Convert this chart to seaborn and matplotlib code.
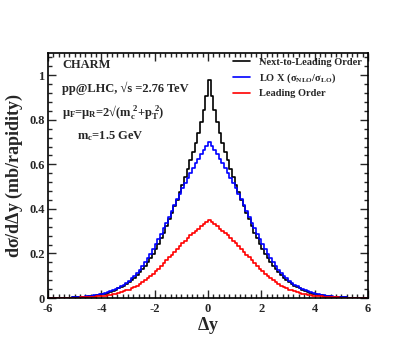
import numpy as np
import pandas as pd
import matplotlib
matplotlib.use("Agg")
import matplotlib.pyplot as plt
from matplotlib.ticker import MultipleLocator
import seaborn as sns

# bin edges: 120 bins of 0.1 between -6 and 6
edges = np.linspace(-6, 6, 121)
centers = (edges[:-1] + edges[1:]) / 2

# Next-to-Leading Order (black), left half then right half
nlo_left = [0.0001, 0.0002, 0.0003, 0.0005, 0.0007, 0.0009, 0.0012, 0.0015, 0.0019, 0.0024,
            0.0030, 0.0036, 0.0044, 0.0053, 0.0063, 0.0075, 0.009, 0.0105, 0.0125, 0.0145,
            0.017, 0.020, 0.024, 0.028, 0.032, 0.037, 0.043, 0.049, 0.056, 0.063,
            0.072, 0.081, 0.091, 0.102, 0.115, 0.129, 0.144, 0.161, 0.179, 0.199,
            0.220, 0.243, 0.268, 0.294, 0.322, 0.353, 0.381, 0.411, 0.442, 0.474,
            0.508, 0.543, 0.580, 0.618, 0.657, 0.698, 0.742, 0.790, 0.845, 0.905]
nlo_right = [0.980, 0.905, 0.845, 0.790, 0.742, 0.698, 0.657, 0.618, 0.580, 0.543,
             0.508, 0.474, 0.442, 0.411, 0.381, 0.353, 0.322, 0.294, 0.268, 0.243,
             0.220, 0.199, 0.179, 0.161, 0.144, 0.129, 0.115, 0.102, 0.091, 0.081,
             0.072, 0.063, 0.056, 0.049, 0.043, 0.037, 0.032, 0.028, 0.024, 0.020,
             0.017, 0.0145, 0.0125, 0.0105, 0.009, 0.0075, 0.0063, 0.0053, 0.0044, 0.0036,
             0.0030, 0.0024, 0.0019, 0.0015, 0.0012, 0.0009, 0.0007, 0.0005, 0.0003, 0.0002]

# LO x (sigma_NLO / sigma_LO) (blue)
lok_left = [0.0002, 0.0003, 0.0004, 0.0006, 0.0008, 0.0011, 0.0014, 0.0018, 0.0022, 0.0028,
            0.0034, 0.0041, 0.0050, 0.0060, 0.0072, 0.0085, 0.010, 0.012, 0.014, 0.016,
            0.019, 0.022, 0.026, 0.030, 0.035, 0.040, 0.046, 0.053, 0.060, 0.068,
            0.077, 0.088, 0.100, 0.113, 0.127, 0.143, 0.160, 0.178, 0.198, 0.219,
            0.241, 0.264, 0.288, 0.313, 0.339, 0.365, 0.391, 0.417, 0.443, 0.468,
            0.493, 0.517, 0.540, 0.562, 0.583, 0.604, 0.625, 0.645, 0.664, 0.682]
lok_right = [0.700, 0.682, 0.664, 0.645, 0.625, 0.604, 0.583, 0.562, 0.540, 0.517,
             0.493, 0.468, 0.443, 0.417, 0.391, 0.365, 0.339, 0.313, 0.288, 0.264,
             0.241, 0.219, 0.198, 0.178, 0.160, 0.143, 0.127, 0.113, 0.100, 0.088,
             0.077, 0.068, 0.060, 0.053, 0.046, 0.040, 0.035, 0.030, 0.026, 0.022,
             0.019, 0.016, 0.014, 0.012, 0.010, 0.0085, 0.0072, 0.0060, 0.0050, 0.0041,
             0.0034, 0.0028, 0.0022, 0.0018, 0.0014, 0.0011, 0.0008, 0.0006, 0.0004, 0.0003]

# Leading Order (red)
lo_left = [0.0001, 0.0001, 0.0002, 0.0003, 0.0004, 0.0005, 0.0007, 0.0009, 0.0011, 0.0014,
           0.0017, 0.002, 0.0025, 0.003, 0.0036, 0.0042, 0.005, 0.006, 0.007, 0.008,
           0.0095, 0.011, 0.013, 0.015, 0.017, 0.020, 0.023, 0.026, 0.030, 0.034,
           0.038, 0.044, 0.050, 0.056, 0.063, 0.071, 0.080, 0.089, 0.099, 0.109,
           0.120, 0.132, 0.144, 0.156, 0.169, 0.182, 0.195, 0.208, 0.221, 0.234,
           0.246, 0.258, 0.270, 0.281, 0.291, 0.302, 0.312, 0.322, 0.332, 0.341]
lo_right = [0.350, 0.341, 0.332, 0.322, 0.312, 0.302, 0.291, 0.281, 0.270, 0.258,
            0.246, 0.234, 0.221, 0.208, 0.195, 0.182, 0.169, 0.156, 0.144, 0.132,
            0.120, 0.109, 0.099, 0.089, 0.080, 0.071, 0.063, 0.056, 0.050, 0.044,
            0.038, 0.034, 0.030, 0.026, 0.023, 0.020, 0.017, 0.015, 0.013, 0.011,
            0.0095, 0.008, 0.007, 0.006, 0.005, 0.0042, 0.0036, 0.003, 0.0025, 0.002,
            0.0017, 0.0014, 0.0011, 0.0009, 0.0007, 0.0005, 0.0004, 0.0003, 0.0002, 0.0001]

labels = ["Next-to-Leading Order",
          r"LO X ($\sigma_{\rm NLO}/\sigma_{\rm LO}$)",
          "Leading Order"]
colors = ["black", "blue", "red"]

df = pd.DataFrame({
    "dy": np.tile(centers, 3),
    "w": nlo_left + nlo_right + lok_left + lok_right + lo_left + lo_right,
    "curve": np.repeat(labels, len(centers)),
})

sns.set_style("ticks")
plt.rcParams["font.family"] = ["Liberation Serif", "DejaVu Serif"]
plt.rcParams["font.weight"] = "bold"
plt.rcParams["mathtext.fontset"] = "custom"
plt.rcParams["mathtext.rm"] = "Liberation Serif:bold"
plt.rcParams["mathtext.it"] = "Liberation Serif:bold"
plt.rcParams["mathtext.bf"] = "Liberation Serif:bold"

fig = plt.figure(figsize=(4.15, 3.52), dpi=100)
ax = fig.add_axes([0.1157, 0.1534, 0.771, 0.696])

for lab, col in zip(labels, colors):
    sub = df[df["curve"] == lab]
    sns.histplot(data=sub, x="dy", weights="w", bins=list(edges), element="step",
                 fill=False, color=col, linewidth=1.2, ax=ax, label=lab)

ax.set_xlim(-6, 6)
ax.set_ylim(0, 1.1)
ax.xaxis.set_minor_locator(MultipleLocator(0.2))
ax.yaxis.set_minor_locator(MultipleLocator(0.04))
ax.set_xticks([-6, -4, -2, 0, 2, 4, 6])
ax.set_xticklabels(["-6", "-4", "-2", "0", "2", "4", "6"])
ax.set_yticks([0, 0.2, 0.4, 0.6, 0.8, 1.0])
ax.set_yticklabels(["0", "0.2", "0.4", "0.6", "0.8", "1"])
ax.tick_params(which="both", direction="in", top=True, right=True, width=1.0,
               labelsize=9)
ax.tick_params(axis="x", pad=3.5)
ax.tick_params(axis="y", pad=2.5)
ax.tick_params(which="major", length=6)
ax.tick_params(which="minor", length=3)
for s in ax.spines.values():
    s.set_linewidth(1.2)
    s.set_color("black")

ax.set_xlabel(r"$\Delta$y", fontsize=13, fontweight="bold", labelpad=0)
ax.set_ylabel(r"d$\sigma$/d$\Delta$y (mb/rapidity)", fontsize=13,
              fontweight="bold", labelpad=3)

ax.text(0.045, 0.951, "CHARM", transform=ax.transAxes, fontsize=9, va="center")
ax.text(0.045, 0.857, "pp@LHC, √s =2.76 TeV", transform=ax.transAxes,
        fontsize=9, va="center")
ax.text(0.045, 0.759, r"$\mu_{\rm F}$=$\mu_{\rm R}$=2√(m$_{\rm c}^{\ 2}$+p$_{\rm T}^{\ 2}$)",
        transform=ax.transAxes, fontsize=9, va="center")
ax.text(0.09, 0.661, r"m$_{\rm c}$=1.5 GeV", transform=ax.transAxes, fontsize=9,
        va="center")

ax.legend(loc="upper right", bbox_to_anchor=(1.005, 1.01), frameon=False,
          fontsize=7.5, handlelength=1.6, handletextpad=0.9, labelspacing=0.4,
          borderaxespad=0.3)

fig.savefig("out.png", dpi=100)
